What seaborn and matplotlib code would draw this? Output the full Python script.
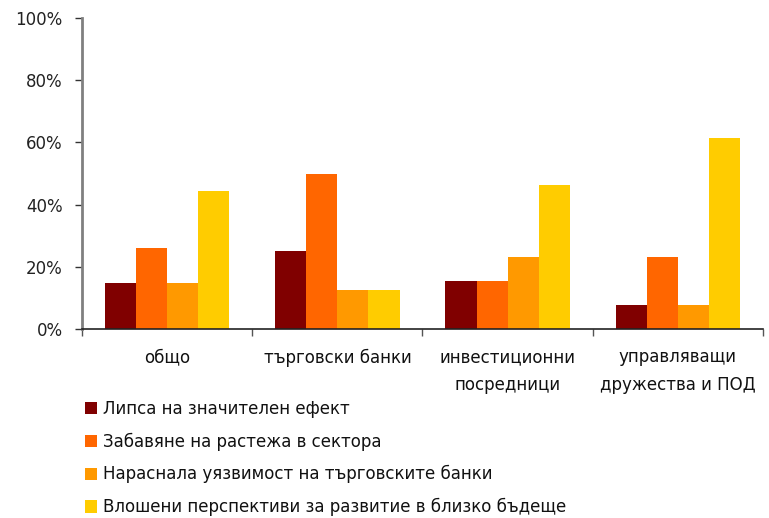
import matplotlib
matplotlib.use("Agg")
import matplotlib.pyplot as plt
import seaborn as sns
import pandas as pd
from matplotlib.patches import Patch
from matplotlib.ticker import FuncFormatter

categories = ["общо", "търговски банки", "инвестиционни\nпосредници",
              "управляващи\nдружества и ПОД"]
series = ["Липса на значителен ефект",
          "Забавяне на растежа в сектора",
          "Нараснала уязвимост на търговските банки",
          "Влошени перспективи за развитие в близко бъдеще"]
values = [
    [0.148, 0.250, 0.154, 0.077],
    [0.259, 0.500, 0.154, 0.231],
    [0.148, 0.125, 0.231, 0.077],
    [0.444, 0.125, 0.462, 0.615],
]
colors = ["#800000", "#FF6600", "#FF9900", "#FFCC00"]
yticks = [0, 0.2, 0.4, 0.6, 0.8, 1.0]

rows = []
for s, vals in zip(series, values):
    for c, v in zip(categories, vals):
        rows.append({"category": c, "series": s, "value": v})
df = pd.DataFrame(rows)

sns.set_theme(style="white")
plt.rcParams["font.family"] = ["DejaVu Sans"]
FS = 12

fig = plt.figure(figsize=(7.69, 5.18), dpi=100)
ax = fig.add_axes([82 / 769, 1 - 329 / 518, (763 - 82) / 769, (329 - 18) / 518])

sns.barplot(data=df, x="category", y="value", hue="series", order=categories,
            hue_order=series, palette=colors, width=0.73, saturation=1,
            edgecolor="none", linewidth=0, legend=False, ax=ax)

ax.set_xlim(-0.5, len(categories) - 0.5)
ax.set_ylim(0, 1)
ax.set_yticks(yticks)
ax.yaxis.set_major_formatter(FuncFormatter(lambda v, _: f"{v * 100:.0f}%"))

# Category labels sit between boundary tick marks
ax.set_xticks([i - 0.5 for i in range(len(categories) + 1)])
ax.set_xticklabels([])
ax.set_xticks(range(len(categories)), minor=True)
ax.set_xticklabels(categories, minor=True, fontsize=FS, linespacing=1.65,
                   color="#111111")
ax.tick_params(axis="x", which="minor", length=0, pad=14)
ax.tick_params(axis="x", which="major", length=5, width=1, color="#555555",
               direction="out", bottom=True)
ax.tick_params(axis="y", length=5, width=1, color="#333333", direction="out",
               left=True, pad=9, labelsize=FS)
for lbl in ax.get_yticklabels():
    lbl.set_color("#222222")

ax.set_xlabel("")
ax.set_ylabel("")
for side in ["top", "right"]:
    ax.spines[side].set_visible(False)
ax.spines["left"].set_color("#808080")
ax.spines["left"].set_linewidth(2)
ax.spines["bottom"].set_color("#222222")
ax.spines["bottom"].set_linewidth(1.2)

handles = [Patch(facecolor=c, edgecolor="none", label=s) for c, s in zip(colors, series)]
fig.legend(handles=handles, loc="upper left", bbox_to_anchor=(78 / 769, 1 - 393 / 518),
           frameon=False, fontsize=FS, handlelength=0.75, handleheight=0.75,
           handletextpad=0.35, labelspacing=0.88, borderaxespad=0,
           labelcolor="#111111")

fig.savefig("out.png", dpi=100)
